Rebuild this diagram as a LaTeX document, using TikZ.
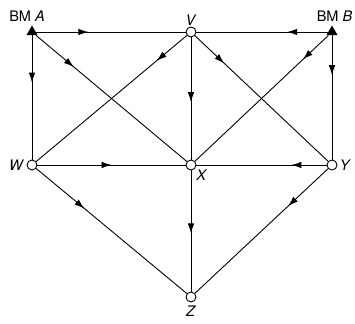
\documentclass[tikz,border=0pt]{standalone}
\usepackage{fontspec}
\setmainfont{TeX Gyre Heros}
\usetikzlibrary{arrows.meta,decorations.markings,shapes.geometric}
\tikzset{
	station/.style={circle,draw,fill=white,inner sep=0pt,minimum size=10pt,line width=0.9pt},
	benchmark/.style={regular polygon,regular polygon sides=3,fill=black,inner sep=0pt,minimum size=13pt},
	leg/.style={line width=0.9pt,postaction={decorate,decoration={markings,
		mark=at position #1 with {\arrow{Latex[length=10pt,width=6.5pt]}}}}},
	leg/.default=0.5
}
\begin{document}
\begin{tikzpicture}[x=1pt,y=1pt,font=\fontsize{14.5}{16}\selectfont]
	\newcommand{\xleft}{32}
	\newcommand{\xmid}{191}
	\newcommand{\xright}{332}
	\useasboundingbox (0,0) rectangle (355,323);
	%benchmarks
	\node [benchmark,label={[xshift=-5pt,label distance=0pt]above:BM \textit{A}}] (bma) at (\xleft,291) {};
	\node [benchmark,label={[xshift=2.5pt,label distance=0pt]above:BM \textit{B}}] (bmb) at (\xright,291) {};
	%stations
	\node [station,label={[label distance=-2pt]above:\textit{V}}] (v) at (\xmid,291) {};
	\node [station,label={[label distance=-1pt]left:\textit{W}}] (w) at (\xleft,158) {};
	\node [station,label={[label distance=-3pt]below right:\textit{X}}] (x) at (\xmid,158) {};
	\node [station,label={[label distance=-1pt]right:\textit{Y}}] (y) at (\xright,158) {};
	\node [station,label={[label distance=0pt]below:\textit{Z}}] (z) at (\xmid,26) {};
	%top row
	\draw [leg=0.35] (bma) -- (v);
	\draw [leg=0.31] (bmb) -- (v);
	\draw [leg=0.38] (bma) -- (w);
	\draw [leg=0.32] (bmb) -- (y);
	%diagonals
	\draw [leg=0.25] (bma) -- (x);
	\draw [leg=0.2] (v) -- (w);
	\draw [leg=0.22] (v) -- (y);
	\draw [leg=0.19] (bmb) -- (x);
	\draw [leg=0.53] (v) -- (x);
	%middle row
	\draw [leg=0.5] (w) -- (x);
	\draw [leg=0.27] (y) -- (x);
	%down to Z
	\draw [leg=0.52] (x) -- (z);
	\draw [leg=0.32] (w) -- (z);
	\draw [leg=0.3] (y) -- (z);
\end{tikzpicture}
\end{document}
